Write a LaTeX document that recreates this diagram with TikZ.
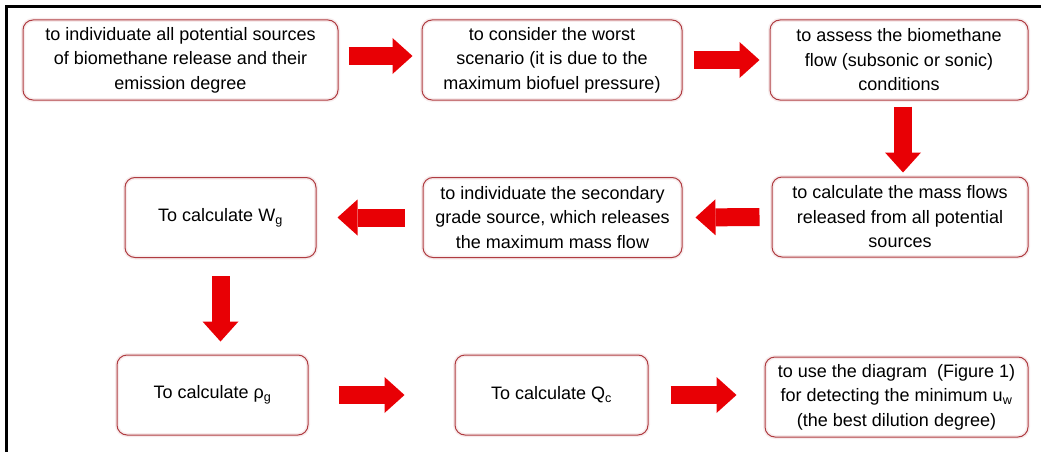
\documentclass[tikz,border=0pt]{standalone}
\usepackage{fontspec}
\setmainfont{Liberation Sans}
\usetikzlibrary{arrows.meta}

\definecolor{boxred}{RGB}{175,60,65}
\definecolor{arrowred}{RGB}{232,0,5}

\begin{document}
\begin{tikzpicture}[x=1pt,y=-1pt,%node distance=20pt,
            every node/.style={draw=boxred,rounded corners=10pt,line width=1pt,
                align=center,inner sep=0pt,font=\fontsize{18}{24.5}\selectfont,
                preaction={draw=boxred!10,line width=4pt}},
            stepbox/.style={minimum width=#1,minimum height=80pt},
            flow/.style={draw=arrowred,line width=18pt,
                -{Triangle[width=36pt,length=20pt,line width=0pt]}},
            ]
            \useasboundingbox (0,0) rectangle (1041,452);
            \draw[line width=3pt] (6,452) -- (6,7) -- (1041,7);

            \node[stepbox=315pt] (individuate) at (180.5,60) {to individuate all potential sources\\of biomethane release and their\\emission degree};
            \node[stepbox=260pt] (worst) at (552,60) {to consider the worst\\scenario (it is due to the\\maximum biofuel pressure)};
            \node[stepbox=258pt] (assess) at (899,60) {to assess the biomethane\\flow (subsonic or sonic)\\conditions};
            \node[stepbox=256pt] (massflows) at (900,217) {to calculate the mass flows\\released from all potential\\sources};
            \node[stepbox=259pt] (secondary) at (552.5,217.5) {to individuate the secondary\\grade source, which releases\\the maximum mass flow};
            \node[stepbox=191pt] (wg) at (220.5,217.5) {To calculate W\textsubscript{g}};
            \node[stepbox=191pt] (rhog) at (212.5,395) {To calculate ρ\textsubscript{g}};
            \node[stepbox=193pt] (qc) at (551.5,395) {To calculate Q\textsubscript{c}};
            \node[stepbox=263pt] (diagram) at (896.5,397) {to use the diagram\ \ (Figure 1)\\for detecting the minimum u\textsubscript{w}\\(the best dilution degree)};

            \draw[flow,shorten <=10pt,shorten >=9pt] ([yshift=4pt]individuate.east) -- ([yshift=4pt]worst.west);
            \draw[flow,shorten <=11pt,shorten >=10pt] (worst.east) -- (assess.west);
            \draw[flow,shorten <=6pt,shorten >=4pt] ([xshift=4pt]assess.south) -- ([xshift=4pt]assess.south |- massflows.north);
            \draw[flow,shorten <=12pt,shorten >=13pt] (massflows.west) -- (secondary.east);
            \draw[flow,shorten <=18pt,shorten >=21pt] (secondary.west) -- (wg.east);
            \draw[flow,shorten <=18pt,shorten >=13pt] (wg.south) -- (wg.south |- rhog.north);
            \draw[flow,shorten <=30pt,shorten >=50pt] (rhog.east) -- (qc.west);
            \draw[flow,shorten <=22pt,shorten >=28pt] (qc.east) -- (qc.east -| diagram.west);
\end{tikzpicture}
\end{document}
